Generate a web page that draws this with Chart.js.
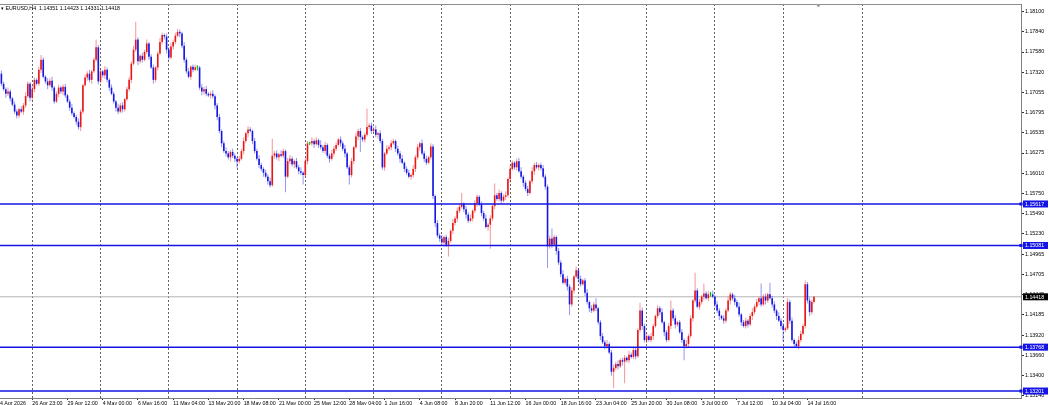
<!DOCTYPE html>
<html>
<head>
<meta charset="utf-8">
<title>EURUSD,H4</title>
<script src="https://cdn.jsdelivr.net/npm/chart.js@4.4.1/dist/chart.umd.min.js"></script>
<style>
  html, body { margin: 0; padding: 0; background: #fff; overflow: hidden; }
  #wrap { position: relative; width: 1049px; height: 405px; overflow: hidden; }
  #chart { position: absolute; left: -7px; top: 0; }
</style>
</head>
<body>
<div id="wrap"><canvas id="chart" width="1056" height="405"></canvas></div>
<script>
// header
const symbol = 'EURUSD,H4';
const lastQuote = [1.14351, 1.14423, 1.14331, 1.14418];   // O H L C of the live bar

// H4 closes (open = previous close)
const firstOpen = 1.1746;
const closes = [
  1.1740, 1.1730, 1.1717, 1.1710, 1.1704, 1.1707, 1.1698, 1.1690, 1.1681, 1.1676,
  1.1684, 1.1681, 1.1689, 1.1701, 1.1717, 1.1699, 1.1710, 1.1722, 1.1717, 1.1735,
  1.1748, 1.1726, 1.1720, 1.1715, 1.1721, 1.1712, 1.1694, 1.1704, 1.1712, 1.1707,
  1.1713, 1.1702, 1.1694, 1.1686, 1.1679, 1.1674, 1.1668, 1.1661, 1.1681, 1.1715,
  1.1725, 1.1730, 1.1722, 1.1733, 1.1748, 1.1764, 1.1720, 1.1733, 1.1728, 1.1735,
  1.1722, 1.1712, 1.1704, 1.1694, 1.1686, 1.1681, 1.1689, 1.1684, 1.1697, 1.1710,
  1.1722, 1.1743, 1.1761, 1.1774, 1.1746, 1.1753, 1.1748, 1.1758, 1.1769, 1.1752,
  1.1738, 1.1722, 1.1738, 1.1756, 1.1771, 1.1780, 1.1778, 1.1761, 1.1751, 1.1765,
  1.1771, 1.1779, 1.1784, 1.1782, 1.1766, 1.1748, 1.1733, 1.1726, 1.1739, 1.1735,
  1.1738, 1.1738, 1.1712, 1.1707, 1.1710, 1.1704, 1.1702, 1.1704, 1.1701, 1.1689,
  1.1674, 1.1656, 1.1640, 1.1630, 1.1627, 1.1622, 1.1629, 1.1624, 1.1620, 1.1617,
  1.1620, 1.1630, 1.1643, 1.1653, 1.1658, 1.1656, 1.1643, 1.1630, 1.1620, 1.1612,
  1.1607, 1.1602, 1.1597, 1.1591, 1.1586, 1.1624, 1.1627, 1.1622, 1.1626, 1.1624,
  1.1630, 1.1597, 1.1617, 1.1620, 1.1613, 1.1617, 1.1609, 1.1604, 1.1602, 1.1599,
  1.1617, 1.1640, 1.1640, 1.1643, 1.1639, 1.1644, 1.1638, 1.1635, 1.1630, 1.1638,
  1.1624, 1.1620, 1.1627, 1.1633, 1.1638, 1.1645, 1.1640, 1.1633, 1.1627, 1.1609,
  1.1599, 1.1617, 1.1635, 1.1649, 1.1656, 1.1648, 1.1645, 1.1651, 1.1661, 1.1663,
  1.1656, 1.1658, 1.1651, 1.1653, 1.1643, 1.1609, 1.1627, 1.1633, 1.1635, 1.1640,
  1.1643, 1.1633, 1.1627, 1.1620, 1.1615, 1.1607, 1.1602, 1.1597, 1.1599, 1.1607,
  1.1622, 1.1635, 1.1640, 1.1627, 1.1620, 1.1615, 1.1622, 1.1636, 1.1572, 1.1537,
  1.1521, 1.1517, 1.1512, 1.1519, 1.1509, 1.1514, 1.1527, 1.1537, 1.1543, 1.1553,
  1.1558, 1.1562, 1.1555, 1.1548, 1.1540, 1.1543, 1.1553, 1.1563, 1.1571, 1.1561,
  1.1550, 1.1543, 1.1532, 1.1535, 1.1543, 1.1559, 1.1573, 1.1568, 1.1576, 1.1566,
  1.1571, 1.1573, 1.1594, 1.1607, 1.1615, 1.1609, 1.1617, 1.1604, 1.1597, 1.1589,
  1.1581, 1.1576, 1.1591, 1.1604, 1.1612, 1.1609, 1.1612, 1.1608, 1.1597, 1.1584,
  1.1507, 1.1517, 1.1509, 1.1519, 1.1501, 1.1486, 1.1471, 1.1460, 1.1465, 1.1455,
  1.1432, 1.1450, 1.1468, 1.1476, 1.1465, 1.1458, 1.1463, 1.1447, 1.1435, 1.1427,
  1.1424, 1.1432, 1.1427, 1.1409, 1.1391, 1.1383, 1.1378, 1.1381, 1.1370, 1.1345,
  1.1350, 1.1355, 1.1352, 1.1360, 1.1358, 1.1363, 1.1360, 1.1367, 1.1364, 1.1373,
  1.1365, 1.1399, 1.1424, 1.1404, 1.1386, 1.1391, 1.1386, 1.1391, 1.1404, 1.1417,
  1.1427, 1.1422, 1.1409, 1.1396, 1.1386, 1.1404, 1.1424, 1.1414, 1.1406, 1.1409,
  1.1396, 1.1386, 1.1378, 1.1381, 1.1391, 1.1414, 1.1437, 1.1450, 1.1429, 1.1435,
  1.1442, 1.1446, 1.1440, 1.1445, 1.1445, 1.1442, 1.1432, 1.1424, 1.1417, 1.1414,
  1.1411, 1.1424, 1.1437, 1.1445, 1.1440, 1.1435, 1.1429, 1.1419, 1.1409, 1.1404,
  1.1411, 1.1406, 1.1417, 1.1422, 1.1429, 1.1435, 1.1440, 1.1432, 1.1442, 1.1437,
  1.1445, 1.1440, 1.1432, 1.1424, 1.1417, 1.1411, 1.1404, 1.1399, 1.1401, 1.1435,
  1.1411, 1.1386, 1.1381, 1.1378, 1.1386, 1.1394, 1.1404, 1.1458, 1.1437, 1.1422,
  1.14351, 1.14418
];

// shadow lengths in pips above / below the body
const wickUp = [
  3,2,4,3,2,5,3,2,4,3,  2,4,3,5,3,2,4,3,2,4,  6,3,2,4,3,5,2,3,4,2,  3,4,2,3,5,2,3,4,3,2,
  4,3,5,2,3,10,3,4,2,5, 3,2,4,3,2,5,3,4,2,3,  4,3,5,23,3,2,4,3,5,2, 3,4,2,3,5,3,2,4,3,5,
  3,4,4,3,2,5,3,4,2,3,  4,3,2,5,3,4,2,3,5,2,  3,4,2,3,5,3,2,4,3,2,  4,3,5,2,4,3,2,4,3,5,
  3,2,4,3,5,22,3,4,2,5, 3,2,4,5,3,2,4,3,5,2,  4,3,2,5,3,4,2,6,3,4,  2,3,5,4,3,2,4,3,5,2,
  3,4,2,5,3,4,2,3,24,3, 4,3,5,2,4,3,2,5,3,4,  3,2,4,3,5,2,3,4,2,5,  3,4,2,5,3,4,2,4,3,2,
  4,3,5,2,3,4,2,5,3,4,  3,14,2,4,3,5,2,4,3,2, 4,3,5,2,4,3,15,3,4,2, 3,5,2,4,3,2,3,4,5,2,
  3,4,2,5,3,4,2,3,4,3,  3,4,13,3,2,4,3,5,2,4, 3,4,2,5,3,4,2,3,5,2,  4,3,8,2,3,4,3,5,2,3,
  4,3,5,2,3,4,2,5,3,4,  3,2,10,4,3,5,2,4,3,2, 4,3,5,2,3,4,13,3,4,2, 3,4,2,5,3,4,2,23,3,4,
  2,13,3,4,3,5,2,4,3,2, 4,3,5,3,2,4,3,5,2,3,  4,2,3,5,3,4,2,19,3,4, 2,15,3,4,2,5,3,4,2,5,
  3,4,2,3,5,4,3,5,3,4,  3,0.5
];
const wickDn = [
  2,4,3,2,5,3,4,2,3,4,  3,2,4,3,2,5,3,4,2,3,  4,2,3,5,2,4,3,2,4,3,  5,3,2,4,3,2,4,3,5,3,
  2,4,3,5,2,3,4,2,3,5,  3,4,2,3,5,3,2,4,3,2,  3,4,2,3,5,3,4,2,3,4,  2,5,3,4,2,3,4,5,3,2,
  4,3,2,5,3,4,3,2,4,3,  2,4,3,5,4,3,2,4,3,5,  4,3,5,2,4,3,5,3,4,9,  3,2,4,3,5,2,4,3,2,4,
  3,5,2,4,3,2,4,3,5,2,  3,20,2,4,3,5,2,4,3,12, 3,4,2,3,5,2,4,3,2,4, 3,5,2,4,3,2,4,3,5,2,
  12,3,4,2,5,19,3,4,2,3, 4,2,3,5,3,3,4,2,3,4, 2,4,3,5,2,4,3,2,4,3,  4,3,5,2,4,3,2,3,4,5,
  3,4,2,5,3,15,2,4,3,5, 3,2,4,5,3,2,4,3,5,2,  4,3,2,5,31,3,4,2,3,4, 2,4,3,5,2,3,4,2,3,5,
  3,4,2,3,5,2,4,3,2,4,  28,3,4,2,5,3,4,2,3,5, 14,3,4,2,5,3,2,4,3,5, 3,2,4,3,5,2,4,3,2,5,
  21,3,4,2,5,28,3,4,2,3, 4,2,3,5,3,4,2,3,5,2, 3,4,2,5,3,2,4,3,5,3,  2,4,18,3,5,2,4,3,2,4,
  3,5,2,4,3,2,4,3,5,2,  4,3,2,5,3,4,2,3,5,2,  3,4,2,5,3,2,4,3,2,5,  3,2,4,3,5,2,4,15,3,2,
  4,3,5,2,4,3,2,3,4,5,  3,2
];

// time axis: one label every 16 bars
const tickLabels = [
  '24 Apr 2026', '26 Apr 23:00', '29 Apr 12:00', '4 May 00:00', '6 May 16:00', '11 May 04:00',
  '13 May 20:00', '18 May 08:00', '21 May 00:00', '25 May 12:00', '28 May 04:00', '1 Jun 16:00',
  '4 Jun 08:00', '8 Jun 20:00', '11 Jun 12:00', '16 Jun 00:00', '18 Jun 16:00', '23 Jun 04:00',
  '25 Jun 20:00', '30 Jun 08:00', '3 Jul 00:00', '7 Jul 12:00', '10 Jul 04:00', '14 Jul 16:00'
];
const labelEvery = 16;
const gridBars = [16, 47, 78, 109, 140, 171, 202, 233, 264, 295, 326, 357, 393];
const slots = 466;   // bar slots across the window, incl. the empty shift area

// price axis
const priceTicks = [
  1.18100, 1.17840, 1.17580, 1.17320, 1.17055, 1.16795, 1.16535, 1.16275, 1.16010, 1.15750,
  1.15490, 1.15230, 1.14965, 1.14705, 1.14445, 1.14185, 1.13920, 1.13660, 1.13400, 1.13140
];
const yMin = 1.13111;
const yMax = 1.18200;

// horizontal levels and the bid line
const levels = [1.15617, 1.15081, 1.13768, 1.13201];
const bidPrice = 1.14418;

// styles
const FONT = "'Liberation Sans', Arial, sans-serif";
const UP = 'rgb(232,22,22)';
const DOWN = 'rgb(22,22,228)';
const DOJI = 'rgb(0,190,0)';
const UP_WICK = 'rgba(232,22,22,0.45)';
const DOWN_WICK = 'rgba(22,22,228,0.45)';
const LEVEL = '#1414e6';
const PIP = 0.0001;

// build OHLC
const opens = closes.map((c, i) => (i === 0 ? firstOpen : closes[i - 1]));
const dir = closes.map((c, i) => (c > opens[i] ? 1 : c < opens[i] ? -1 : 0));
const bodies = closes.map((c, i) => [opens[i], c]);
const wicks = closes.map((c, i) => [
  Math.min(opens[i], c) - wickDn[i] * PIP,
  Math.max(opens[i], c) + wickUp[i] * PIP
]);
const labels = Array.from({ length: slots }, (_, i) =>
  (i % labelEvery === 0 && tickLabels[i / labelEvery]) || '');

function levelLine(v, color, width, order, marker) {
  return {
    type: 'line',
    xAxisID: 'xl',
    data: [{ x: 0, y: v }, { x: 1, y: v }],
    borderColor: color,
    borderWidth: width,
    pointRadius: marker ? [0, 2.2] : 0,
    pointStyle: 'rect',
    pointBackgroundColor: color,
    pointBorderWidth: 0,
    clip: false,
    order: order
  };
}

// header text, price boxes, shift marker
const overlay = {
  id: 'overlay',
  beforeDraw(chart) {
    const { ctx, width, height } = chart;
    ctx.save();
    ctx.fillStyle = '#fff';
    ctx.fillRect(0, 0, width, height);
    ctx.restore();
  },
  afterDraw(chart) {
    const { ctx, chartArea: a, scales: { x, y } } = chart;
    ctx.save();
    ctx.strokeStyle = '#8c8c8c';
    ctx.lineWidth = 1;
    ctx.beginPath();
    ctx.moveTo(a.left, a.top + 0.5);
    ctx.lineTo(a.right, a.top + 0.5);
    ctx.stroke();

    ctx.font = '5.3px ' + FONT;
    ctx.textBaseline = 'middle';
    ctx.textAlign = 'left';
    const box = (v, bg) => {
      const py = y.getPixelForValue(v);
      ctx.fillStyle = bg;
      ctx.fillRect(a.right + 2, py - 3.5, 25, 7);
      ctx.fillStyle = '#fff';
      ctx.fillText(v.toFixed(5), a.right + 4, py + 0.3);
    };
    levels.forEach(v => box(v, LEVEL));
    box(bidPrice, '#000');

    ctx.fillStyle = '#000';
    ctx.fillText('\u25BE ' + symbol + '  ' + lastQuote.map(v => v.toFixed(5)).join(' '), a.left + 4, a.top + 5);

    const sx = x.getPixelForValue(closes.length + 1);
    ctx.fillStyle = '#9a9a9a';
    ctx.beginPath();
    ctx.moveTo(sx - 2.5, a.top);
    ctx.lineTo(sx + 2.5, a.top);
    ctx.lineTo(sx, a.top + 3.5);
    ctx.closePath();
    ctx.fill();
    ctx.restore();
  }
};

new Chart(document.getElementById('chart'), {
  type: 'bar',
  data: {
    labels: labels,
    datasets: [
      ...levels.map(v => levelLine(v, LEVEL, 1.5, 0, true)),
      {
        data: bodies,
        backgroundColor: dir.map(d => (d > 0 ? UP : d < 0 ? DOWN : DOJI)),
        barThickness: 1.6,
        minBarLength: 1,
        inflateAmount: 0,
        grouped: false,
        borderWidth: 0,
        order: 1
      },
      {
        data: wicks,
        backgroundColor: dir.map(d => (d > 0 ? UP_WICK : d < 0 ? DOWN_WICK : DOJI)),
        barThickness: 1,
        inflateAmount: 0,
        grouped: false,
        borderWidth: 0,
        order: 2
      },
      levelLine(bidPrice, '#b4b4b4', 1, 3, false)
    ]
  },
  options: {
    responsive: false,
    animation: false,
    events: [],
    layout: { padding: { top: 2, left: 0, right: 0, bottom: 0 } },
    plugins: { legend: { display: false }, tooltip: { enabled: false } },
    scales: {
      x: {
        type: 'category',
        offset: false,
        afterFit: s => { s.height = 7; s.paddingLeft = 0; s.paddingRight = 0; },
        ticks: {
          autoSkip: false,
          maxRotation: 0,
          minRotation: 0,
          align: 'start',
          padding: 0,
          color: '#000',
          font: { family: FONT, size: 5.3 }
        },
        grid: {
          offset: false,
          color: c => (gridBars.includes(c.index) ? 'rgba(60,60,60,0.8)' : 'rgba(0,0,0,0)'),
          tickColor: c => (labels[c.index] ? '#333' : 'rgba(0,0,0,0)'),
          tickLength: 2,
          lineWidth: 1
        },
        border: { color: '#808080', dash: [2, 2] }
      },
      xl: { type: 'linear', display: false, offset: false, grid: { offset: false }, min: 0, max: 1 },
      y: {
        position: 'right',
        min: yMin,
        max: yMax,
        afterBuildTicks: s => { s.ticks = priceTicks.map(v => ({ value: v })); },
        afterFit: s => { s.width = 28; s.paddingTop = 0; s.paddingBottom = 0; },
        ticks: {
          autoSkip: false,
          padding: 1,
          color: '#000',
          font: { family: FONT, size: 5.3 },
          callback: v => Number(v).toFixed(5)
        },
        grid: { drawOnChartArea: false, tickLength: 3, tickColor: '#333' },
        border: { color: '#808080' }
      }
    }
  },
  plugins: [overlay]
});
</script>
</body>
</html>
